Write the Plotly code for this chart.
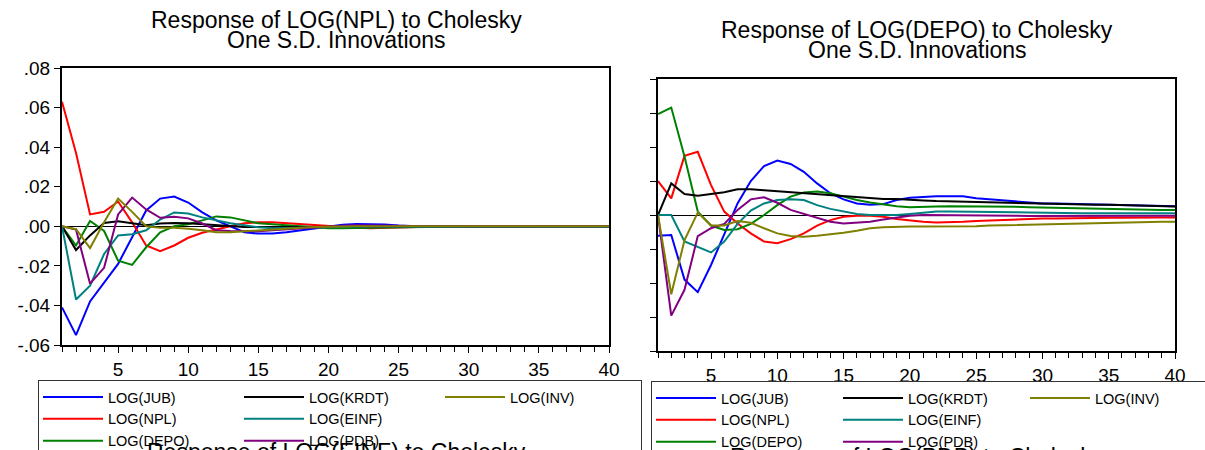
import plotly.graph_objects as go

periods = list(range(1, 41))

series_names = ["LOG(JUB)", "LOG(NPL)", "LOG(DEPO)", "LOG(KRDT)", "LOG(EINF)", "LOG(PDB)", "LOG(INV)"]
series_colors = ["#0000FF", "#FF0000", "#008000", "#000000", "#008080", "#800080", "#808000"]
legend_columns = ["c1", "c1", "c1", "c2", "c2", "c2", "c3"]

# Response of LOG(NPL)
npl_jub = [-0.041, -0.055, -0.038, -0.0285, -0.019, -0.0055, 0.008, 0.014, 0.015, 0.012,
           0.007, 0.003, 0.0, -0.003, -0.0037, -0.0037, -0.003, -0.002, -0.001, 0.0,
           0.0008, 0.0012, 0.0012, 0.0009, 0.0004, 0.0, -0.0002, -0.0003, -0.0003, -0.0003,
           -0.0003, -0.0002, -0.0002, -0.0002, -0.0002, -0.0002, -0.0002, -0.0002, -0.0002, -0.0002]
npl_npl = [0.063, 0.037, 0.006, 0.0073, 0.0125, 0.002, -0.0097, -0.0126, -0.0097, -0.0058,
           -0.0033, -0.0015, 0.0, 0.0015, 0.002, 0.002, 0.0015, 0.001, 0.0005, 0.0,
           -0.0005, -0.0008, -0.001, -0.0008, -0.0005, -0.0003, 0.0, 0.0001, 0.0002, 0.0002,
           0.0001, 0.0, 0.0, 0.0, 0.0, 0.0, 0.0, 0.0, 0.0, 0.0]
npl_depo = [0.0, -0.0097, 0.0027, -0.0024, -0.0174, -0.0195, -0.0106, -0.003, 0.0, 0.001,
            0.003, 0.005, 0.0045, 0.003, 0.0015, 0.001, 0.0005, 0.0, -0.0005, -0.001,
            -0.001, -0.001, -0.0008, -0.0006, -0.0004, -0.0003, -0.0003, -0.0003, -0.0003, -0.0003,
            -0.0003, -0.0003, -0.0003, -0.0003, -0.0003, -0.0003, -0.0003, -0.0003, -0.0003, -0.0003]
npl_krdt = [0.0, -0.012, -0.0046, 0.0017, 0.0026, 0.0014, 0.0005, 0.0014, 0.0017, 0.0015,
            0.001, 0.0005, 0.0, -0.0003, -0.0004, -0.0004, -0.0003, -0.0002, -0.0002, -0.0001,
            -0.0001, -0.0001, -0.0001, -0.0001, -0.0001, -0.0001, -0.0001, -0.0001, -0.0001, -0.0001,
            -0.0001, -0.0001, -0.0001, -0.0001, -0.0001, -0.0001, -0.0001, -0.0001, -0.0001, -0.0001]
npl_einf = [0.0, -0.037, -0.030, -0.014, -0.0046, -0.004, -0.002, 0.0034, 0.007, 0.0065,
            0.0045, 0.003, 0.0015, 0.0005, -0.0005, -0.001, -0.001, -0.0008, -0.0006, -0.0004,
            -0.0003, -0.0002, -0.0002, -0.0002, -0.0002, -0.0002, -0.0002, -0.0002, -0.0002, -0.0002,
            -0.0002, -0.0002, -0.0002, -0.0002, -0.0002, -0.0002, -0.0002, -0.0002, -0.0002, -0.0002]
npl_pdb = [0.0, -0.0017, -0.029, -0.021, 0.006, 0.0145, 0.0085, 0.0043, 0.0048, 0.004,
           0.0014, -0.002, -0.0024, -0.0025, -0.0025, -0.002, -0.0015, -0.001, -0.0005, 0.0,
           0.0003, 0.0005, 0.0005, 0.0004, 0.0003, 0.0002, 0.0001, 0.0, 0.0, 0.0,
           0.0, 0.0, 0.0, 0.0, 0.0, 0.0, 0.0, 0.0, 0.0, 0.0]
npl_inv = [0.0, -0.0015, -0.011, 0.002, 0.014, 0.0073, 0.0, -0.0008, -0.0008, -0.0012,
           -0.002, -0.003, -0.003, -0.0025, -0.002, -0.0015, -0.001, -0.0007, -0.0004, -0.0002,
           0.0, 0.0, 0.0, 0.0, 0.0, 0.0, 0.0, 0.0, 0.0, 0.0,
           0.0, 0.0, 0.0, 0.0, 0.0, 0.0, 0.0, 0.0, 0.0, 0.0]

# Response of LOG(DEPO)
depo_jub = [-0.0061, -0.0059, -0.019, -0.0227, -0.0147, -0.0057, 0.0034, 0.010, 0.0144, 0.016,
            0.015, 0.0127, 0.0093, 0.0064, 0.0046, 0.0034, 0.003, 0.0032, 0.0044, 0.0051,
            0.0054, 0.0055, 0.0055, 0.0055, 0.0049, 0.0046, 0.0042, 0.0039, 0.0036, 0.0034,
            0.0034, 0.0033, 0.0032, 0.0032, 0.0031, 0.0031, 0.0029, 0.0027, 0.0026, 0.0026]
depo_npl = [0.010, 0.0049, 0.0174, 0.0186, 0.0088, 0.001, -0.0025, -0.0054, -0.0078, -0.0083,
            -0.0071, -0.0054, -0.0031, -0.0015, -0.0005, -0.0002, -0.0002, -0.0005, -0.0012, -0.0017,
            -0.002, -0.0022, -0.0022, -0.002, -0.0018, -0.0016, -0.0014, -0.0012, -0.0011, -0.001,
            -0.001, -0.0009, -0.0009, -0.0008, -0.0008, -0.0008, -0.0007, -0.0007, -0.0007, -0.0007]
depo_depo = [0.0297, 0.0316, 0.0172, 0.001, -0.0031, -0.0044, -0.0042, -0.0026, 0.0, 0.0029,
             0.0054, 0.0066, 0.0069, 0.0064, 0.0054, 0.0044, 0.0037, 0.0031, 0.0026, 0.0023,
             0.0023, 0.0025, 0.0026, 0.0026, 0.0026, 0.0026, 0.0025, 0.0024, 0.0023, 0.0022,
             0.0021, 0.0021, 0.002, 0.002, 0.0019, 0.0018, 0.0017, 0.0016, 0.0015, 0.0015]
depo_krdt = [0.0, 0.0093, 0.0062, 0.0057, 0.0062, 0.0067, 0.0076, 0.0076, 0.0073, 0.007,
             0.0066, 0.0064, 0.006, 0.0057, 0.0054, 0.0051, 0.0048, 0.0047, 0.0047, 0.0044,
             0.0043, 0.0041, 0.004, 0.004, 0.0039, 0.0037, 0.0035, 0.0034, 0.0033, 0.0032,
             0.0031, 0.0031, 0.003, 0.003, 0.003, 0.0029, 0.0028, 0.0027, 0.0026, 0.0025]
depo_einf = [0.0, 0.0, -0.0078, -0.0095, -0.011, -0.0078, -0.0026, 0.0013, 0.0034, 0.0044,
             0.0046, 0.0044, 0.0029, 0.0018, 0.001, 0.0003, 0.0, 0.0, 0.0, 0.0003,
             0.0007, 0.001, 0.001, 0.001, 0.001, 0.001, 0.0009, 0.0008, 0.0007, 0.0006,
             0.0006, 0.0005, 0.0005, 0.0005, 0.0005, 0.0005, 0.0005, 0.0005, 0.0005, 0.0005]
depo_pdb = [0.0, -0.0296, -0.022, -0.0062, -0.0039, -0.0026, 0.0015, 0.0046, 0.0052, 0.0036,
            0.0015, 0.0003, -0.001, -0.002, -0.0025, -0.0023, -0.002, -0.0013, -0.0007, -0.0002,
            0.0, 0.0, 0.0, 0.0, 0.0, -0.0001, -0.0002, -0.0002, -0.0003, -0.0003,
            -0.0003, -0.0003, -0.0003, -0.0003, -0.0002, -0.0002, -0.0002, -0.0002, -0.0002, -0.0002]
depo_inv = [0.0, -0.0233, -0.0074, 0.0007, -0.0031, -0.0031, -0.0018, -0.0023, -0.0039, -0.0054,
            -0.0062, -0.0064, -0.0061, -0.0057, -0.0052, -0.0046, -0.0039, -0.0036, -0.0034, -0.0034,
            -0.0034, -0.0034, -0.0034, -0.0033, -0.0033, -0.0031, -0.003, -0.0029, -0.0028, -0.0027,
            -0.0026, -0.0025, -0.0025, -0.0024, -0.0023, -0.0022, -0.0021, -0.002, -0.002, -0.002]

npl_series = [npl_jub, npl_npl, npl_depo, npl_krdt, npl_einf, npl_pdb, npl_inv]
depo_series = [depo_jub, depo_npl, depo_depo, depo_krdt, depo_einf, depo_pdb, depo_inv]

left_ytick_vals = [-0.06, -0.04, -0.02, 0.0, 0.02, 0.04, 0.06, 0.08]
left_ytick_text = ["-.06", "-.04", "-.02", ".00", ".02", ".04", ".06", ".08"]
right_ytick_vals = [-0.04, -0.03, -0.02, -0.01, 0.0, 0.01, 0.02, 0.03, 0.04]
xtick_vals = [5, 10, 15, 20, 25, 30, 35, 40]

W, H = 1205, 450
FONT = "Liberation Sans, Arial, sans-serif"

def px_x(p):
    return p / W

def px_y(p):
    return 1 - p / H

fig = go.Figure()

for i in range(len(series_names)):
    fig.add_trace(go.Scatter(
        x=periods, y=npl_series[i], mode="lines", name=series_names[i],
        line=dict(color=series_colors[i], width=2),
        legendgroup="L" + legend_columns[i], legend="legend",
        xaxis="x", yaxis="y"))
for i in range(len(series_names)):
    fig.add_trace(go.Scatter(
        x=periods, y=depo_series[i], mode="lines", name=series_names[i],
        line=dict(color=series_colors[i], width=2),
        legendgroup="R" + legend_columns[i], legend="legend2",
        xaxis="x2", yaxis="y2"))

axis_common = dict(showgrid=False, showline=True, linecolor="black", linewidth=2,
                   mirror=True, ticks="outside", tickcolor="black", tickwidth=1,
                   tickfont=dict(family=FONT, size=19, color="black"))

legend_common = dict(orientation="h", traceorder="grouped", tracegroupgap=0,
                     xanchor="left", yanchor="top",
                     bordercolor="#333", borderwidth=1, bgcolor="rgba(255,255,255,0)",
                     font=dict(family=FONT, size=14.5, color="black"), itemwidth=60)

fig.update_layout(
    width=W, height=H,
    margin=dict(l=0, r=0, t=0, b=0, autoexpand=False),
    paper_bgcolor="white", plot_bgcolor="white",
    font=dict(family=FONT, color="black"),
    xaxis=dict(domain=[px_x(62), px_x(609)], range=[1, 40], tickmode="array",
               tickvals=xtick_vals, ticklen=6, zeroline=False,
               minor=dict(dtick=1, tick0=0, ticks="outside", ticklen=5, tickcolor="black"),
               anchor="y", **axis_common),
    yaxis=dict(domain=[px_y(345), px_y(68)], range=[-0.06, 0.08], tickmode="array",
               tickvals=left_ytick_vals, ticktext=left_ytick_text, ticklen=6,
               zeroline=True, zerolinecolor="black", zerolinewidth=1,
               anchor="x", **axis_common),
    xaxis2=dict(domain=[px_x(658), px_x(1175)], range=[1, 40], tickmode="array",
                tickvals=xtick_vals, ticklen=6, zeroline=False,
                minor=dict(dtick=1, tick0=0, ticks="outside", ticklen=5, tickcolor="black"),
                anchor="y2", **axis_common),
    yaxis2=dict(domain=[px_y(351), px_y(79)], range=[-0.04, 0.04], tickmode="array",
                tickvals=right_ytick_vals, showticklabels=False, ticklen=6,
                zeroline=True, zerolinecolor="black", zerolinewidth=1,
                anchor="x2", **axis_common),
    legend=dict(x=px_x(38), y=px_y(380), entrywidth=126, **legend_common),
    legend2=dict(x=px_x(651), y=px_y(381), entrywidth=112, **legend_common),
)

titles = [
    ("Response of LOG(NPL) to Cholesky", 336, 20),
    ("One S.D. Innovations", 336, 40),
    ("Response of LOG(DEPO) to Cholesky", 917, 30),
    ("One S.D. Innovations", 917, 50),
    ("Response of LOG(EINF) to Cholesky", 336, 452),
    ("Response of LOG(PDB) to Cholesky", 917, 457),
]
for text, cx, cy in titles:
    fig.add_annotation(text=text, xref="paper", yref="paper", x=px_x(cx), y=px_y(cy),
                       xanchor="center", yanchor="middle", showarrow=False,
                       font=dict(family=FONT, size=23, color="black"))

fig.write_html("out.html", config={"displayModeBar": False},
               post_script="document.body.style.margin='0px';document.body.style.overflow='hidden';")
